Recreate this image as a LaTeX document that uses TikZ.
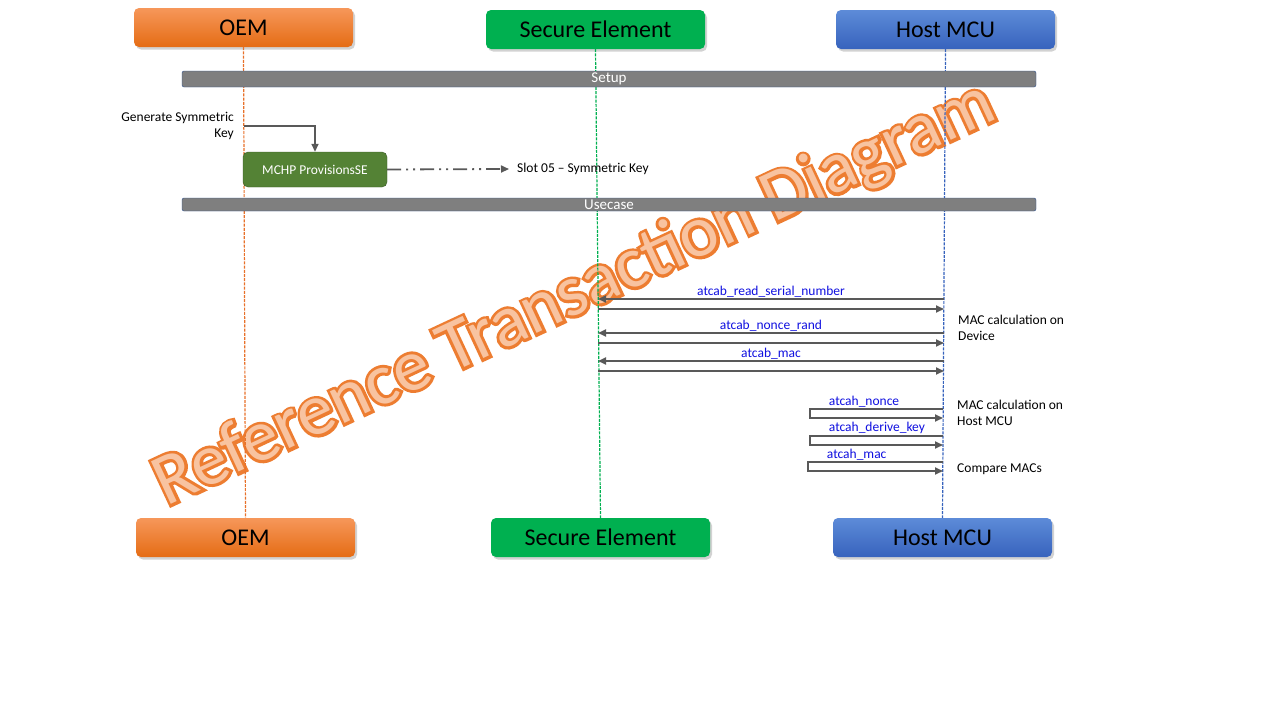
\documentclass[tikz,border=0pt]{standalone}
\usepackage{fontspec}
\setmainfont{Carlito}
\newfontfamily\markbold[FakeBold=8]{Carlito}
\usetikzlibrary{positioning,shadows,arrows.meta}
\definecolor{oemlight}{HTML}{F6975A}
\definecolor{oemdark}{HTML}{E56C14}
\definecolor{oemline}{HTML}{E8712A}
\definecolor{segreen}{HTML}{00B050}
\definecolor{hostlight}{HTML}{5D8BD8}
\definecolor{hostdark}{HTML}{3763BD}
\definecolor{barfill}{HTML}{7F7F7F}
\definecolor{barline}{HTML}{2F528F}
\definecolor{provfill}{HTML}{548235}
\definecolor{provline}{HTML}{3A5A28}
\definecolor{msgline}{HTML}{595959}
\definecolor{callblue}{HTML}{1010E0}
\definecolor{markfill}{HTML}{F8C3A0}
\definecolor{markline}{HTML}{ED7D31}
\begin{document}
\begin{tikzpicture}[x=1pt,y=-1pt,
    actor/.style={rounded corners=5pt,minimum width=219pt,minimum height=39pt,
      font=\fontsize{24}{26}\selectfont,text=black,
      drop shadow={shadow xshift=2pt,shadow yshift=-2.5pt,opacity=0.35}},
    oem/.style={actor,top color=oemlight,bottom color=oemdark},
    secure/.style={actor,fill=segreen},
    host/.style={actor,top color=hostlight,bottom color=hostdark},
    phase/.style={draw=barline,fill=barfill,rounded corners=2pt,minimum width=854pt,
      inner sep=0pt,text=white,font=\fontsize{15}{15}\selectfont},
    life/.style={dash pattern=on 3pt off 1.2pt,line width=1.2pt},
    msg/.style={draw=msgline,line width=1.8pt,-{Triangle[length=8pt,width=7pt]}},
    note/.style={font=\fontsize{13.5}{16}\selectfont,inner sep=0pt},
    call/.style={font=\fontsize{13.5}{14}\selectfont,text=callblue,inner sep=1pt},
    watermark/.style={rotate=25,font=\fontsize{73}{73}\selectfont}]
\useasboundingbox[fill=white] (0,0) rectangle (1280,720);

\node[watermark,text=markline] (markedge) at (575,295) {\markbold Reference Transaction Diagram};
\node[watermark,text=markfill] (marktext) at (575,295) {Reference Transaction Diagram};

\node[oem] (oemtop) at (243.5,27.5) {OEM};
\node[secure] (setop) at (595.5,29.5) {Secure Element};
\node[host] (hosttop) at (945.5,29.5) {Host MCU};
\node[oem] (oembot) at (245.5,537.5) {OEM};
\node[secure] (sebot) at (600.5,537.5) {Secure Element};
\node[host] (hostbot) at (942.5,537.5) {Host MCU};

\draw[life,draw=oemline] (oemtop.south) -- (oembot.north);
\draw[life,draw=segreen] (setop.south) -- (sebot.north);
\draw[life,draw=hostdark] (hosttop.south) -- (hostbot.north);

\node[phase,minimum height=16pt] (setup) at (609,79) {Setup};
\node[phase,minimum height=13pt] (usecase) at (609,204.5) {Usecase};

\node[note,align=right,anchor=east] (genkey) at (234,126) {Generate Symmetric\\Key};
\node[draw=provline,fill=provfill,rounded corners=5pt,minimum width=144pt,minimum height=35pt,
  text=white,font=\fontsize{13.5}{14}\selectfont] (prov) at (315,169.5) {MCHP ProvisionsSE};
\node[note,anchor=west] (slot) at (517,169) {Slot 05 -- Symmetric Key};
\coordinate (keyout) at (244,126);
\draw[msg,line width=1.6pt] (keyout) -| (prov.north);
\draw[draw=msgline,line width=1.8pt,dash pattern=on 14pt off 5pt on 2pt off 5pt on 2pt off 5pt,
  -{Triangle[length=8pt,width=7pt]}] (prov.east) -- ([xshift=-8pt]slot.west);

\foreach \y/\id/\txt in {299/rsn/atcab\_read\_serial\_number,333/nonce/atcab\_nonce\_rand,361/mac/atcab\_mac} {
  \coordinate (h\id) at (944,\y);
  \coordinate (s\id) at (598,\y);
  \coordinate (sr\id) at (598,\y+10);
  \coordinate (hr\id) at (944,\y+10);
  \draw[msg] (h\id) -- node[call,above] {\txt} (s\id);
  \draw[msg] (sr\id) -- (hr\id);
}

\foreach \y/\x/\id/\txt in {409/810/nonce/atcah\_nonce,436/810/derive/atcah\_derive\_key,462/808/mac/atcah\_mac} {
  \coordinate (lout\id) at (943,\y);
  \coordinate (lin\id) at (943,\y+9);
  \draw[msg] (lout\id) -- (\x,\y) node[call,above right,xshift=17pt] {\txt} |- (lin\id);
}

\node[note,align=left,anchor=west] (devnote) at (958,328) {MAC calculation on\\Device};
\node[note,align=left,anchor=west] (hostnote) at (957,413) {MAC calculation on\\Host MCU};
\node[note,anchor=west] (cmpnote) at (957,469) {Compare MACs};
\end{tikzpicture}
\end{document}
